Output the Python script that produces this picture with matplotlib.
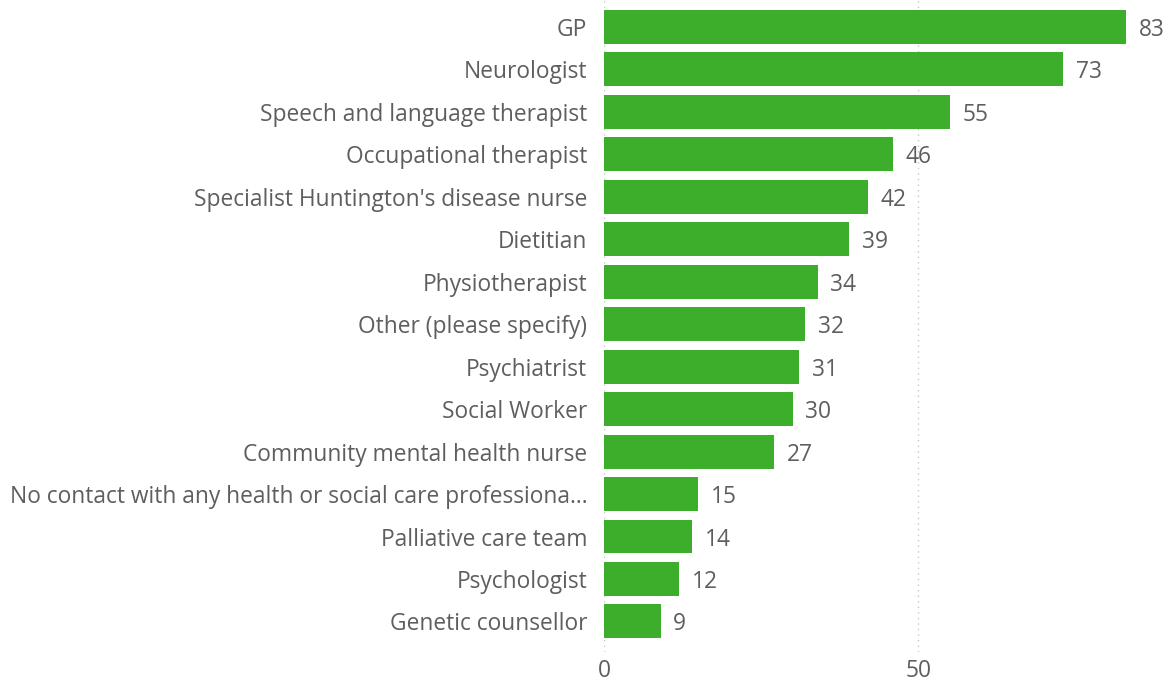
import matplotlib.pyplot as plt

categories = ["GP", "Neurologist", "Speech and language therapist", "Occupational therapist",
              "Specialist Huntington's disease nurse", "Dietitian", "Physiotherapist",
              "Other (please specify)", "Psychiatrist", "Social Worker",
              "Community mental health nurse",
              "No contact with any health or social care professiona...",
              "Palliative care team", "Psychologist", "Genetic counsellor"]
values = [83, 73, 55, 46, 42, 39, 34, 32, 31, 30, 27, 15, 14, 12, 9]
xticks = [0, 50]

plt.rcParams['font.family'] = ['Open Sans', 'DejaVu Sans']
text_color = '#605E5C'
fs = 16.4

fig = plt.figure(figsize=(11.7, 6.9), dpi=100)
ax = fig.add_axes([604 / 1170, 38 / 690, 1 - 604 / 1170, 652 / 690])

y = range(len(categories))
ax.barh(y, values, height=0.8, color='#3DAE2B')
for i, v in enumerate(values):
    ax.text(v + 2.0, i, str(v), va='center_baseline', ha='left', fontsize=fs, color=text_color)

ax.set_ylim(14.72, -0.635)
ax.set_xlim(0, 90)
ax.set_yticks(list(y))
ax.set_yticklabels(categories, fontsize=fs, color=text_color)
ax.set_xticks(xticks)
ax.set_xticklabels([str(t) for t in xticks], fontsize=fs, color=text_color)
ax.tick_params(axis='y', length=0, pad=12)
ax.tick_params(axis='x', length=0, pad=5)
ax.xaxis.grid(True, color='#C8C8C8', linestyle=(0, (1, 3)), linewidth=1)
ax.set_axisbelow(True)
for s in ax.spines.values():
    s.set_visible(False)

fig.savefig('out.png', dpi=100)
